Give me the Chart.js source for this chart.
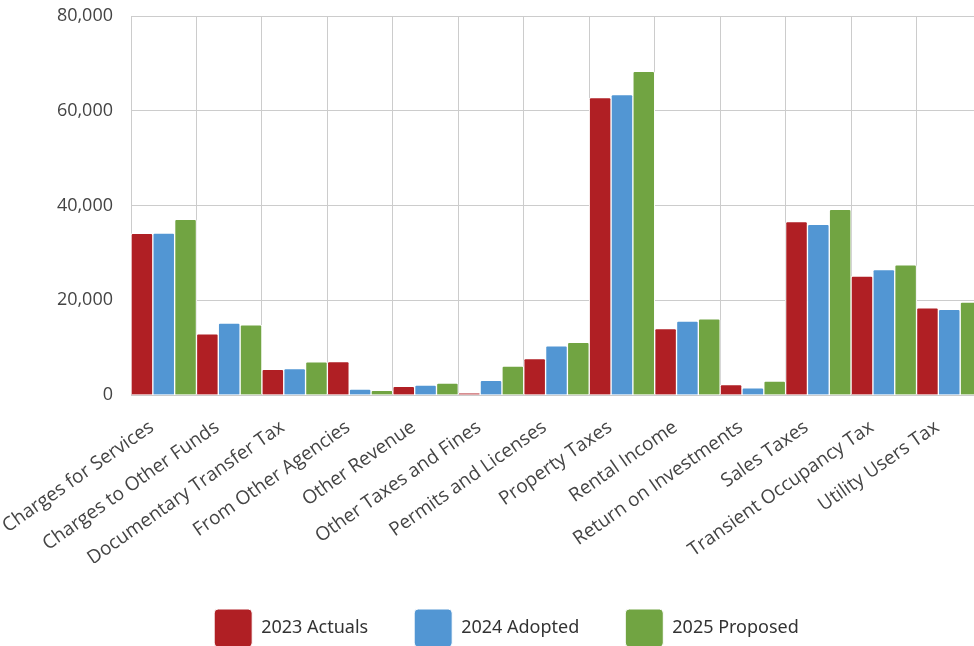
<!DOCTYPE html>
<html>
<head>
<meta charset="utf-8">
<script src="https://cdn.jsdelivr.net/npm/chart.js@4"></script>
<style>
    html, body { margin: 0; padding: 0; background: #fff; overflow: hidden; }
    #wrap { position: relative; width: 1013px; height: 657px; }
</style>
</head>
<body>
<div id="wrap"><canvas id="revenue-chart" width="1013" height="657"></canvas></div>
<script>
const categories = [
    "Charges for Services", "Charges to Other Funds", "Documentary Transfer Tax",
    "From Other Agencies", "Other Revenue", "Other Taxes and Fines",
    "Permits and Licenses", "Property Taxes", "Rental Income",
    "Return on Investments", "Sales Taxes", "Transient Occupancy Tax", "Utility Users Tax"
];
const actuals2023 = [34100, 12900, 5400, 7050, 1830, 350, 7700, 62800, 14000, 2200, 36600, 25100, 18400];
const adopted2024 = [34200, 15200, 5600, 1270, 2100, 3100, 10400, 63400, 15600, 1500, 36000, 26500, 18100];
const proposed2025 = [37100, 14800, 7000, 990, 2500, 6100, 11100, 68300, 16100, 2960, 39200, 27500, 19600];
const yTicks = [0, 20000, 40000, 60000, 80000];

const seriesColors = ["#B01F24", "#5296D3", "#71A442"];

function makeDataset(label, data, color) {
    return {
        label,
        data,
        backgroundColor: color,
        borderColor: "#ffffff",
        borderWidth: 1,
        borderRadius: 2,
        categoryPercentage: 1,
        barPercentage: 1
    };
}

document.addEventListener("DOMContentLoaded", () => {
    const ctx = document.getElementById("revenue-chart").getContext("2d");

    new Chart(ctx, {
        type: "bar",
        data: {
            labels: categories,
            datasets: [
                makeDataset("2023 Actuals", actuals2023, seriesColors[0]),
                makeDataset("2024 Adopted", adopted2024, seriesColors[1]),
                makeDataset("2025 Proposed", proposed2025, seriesColors[2])
            ]
        },
        options: {
            responsive: false,
            animation: false,
            layout: { padding: { top: 16, right: 0, left: 0, bottom: 0 } },
            scales: {
                x: {
                    grid: { color: "#cccccc", offset: true, drawTicks: false },
                    border: { color: "#cccccc" },
                    ticks: {
                        color: "#444444",
                        font: { family: "'Open Sans'", size: 19 },
                        minRotation: 35,
                        maxRotation: 35,
                        autoSkip: false,
                        padding: 21,
                        labelOffset: -12
                    },
                    afterFit: (scale) => {
                        // let the rotated first label run off the edge,
                        // keep some room on the right of the plot only
                        scale.paddingLeft = 0;
                        scale.paddingRight = 31;
                        scale.height = 168;
                    }
                },
                y: {
                    min: 0,
                    max: 80000,
                    grid: { color: "#cccccc", drawTicks: false },
                    border: { color: "#cccccc" },
                    afterBuildTicks: (scale) => {
                        scale.ticks = yTicks.map(v => ({ value: v }));
                    },
                    ticks: {
                        color: "#444444",
                        font: { family: "'Open Sans'", size: 18 },
                        padding: 18,
                        callback: (v) => v.toLocaleString("en-US")
                    },
                    afterFit: (scale) => {
                        scale.width = 131;
                        scale.paddingTop = 0;
                    }
                }
            },
            plugins: {
                legend: {
                    position: "bottom",
                    labels: {
                        boxWidth: 38,
                        boxHeight: 38,
                        padding: 46,
                        color: "#333333",
                        useBorderRadius: true,
                        borderRadius: 4,
                        font: { family: "'Noto Sans'", size: 18 }
                    }
                },
                tooltip: { enabled: false }
            }
        }
    });
});
</script>
</body>
</html>
